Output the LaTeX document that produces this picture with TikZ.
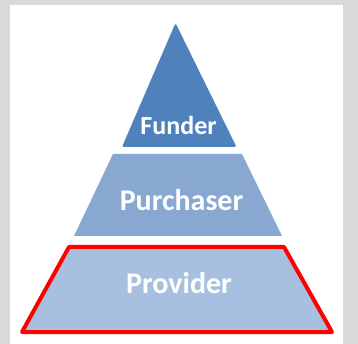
\documentclass[tikz,border=0pt]{standalone}
\usepackage{fontspec}
\setmainfont{Carlito}
\definecolor{frame}{HTML}{D9D9D9}
\definecolor{topblue}{HTML}{4F81BD}
\definecolor{midblue}{HTML}{88A8D2}
\definecolor{lowblue}{HTML}{A8C0E0}
\definecolor{hired}{HTML}{FF0000}
\tikzset{
  lbl/.style={text=white, font=\fontsize{30}{30}\selectfont\bfseries, anchor=base, inner sep=0pt},
  smalllbl/.style={lbl, font=\fontsize{26}{26}\selectfont\bfseries}
}
\begin{document}
\begin{tikzpicture}[x=1pt,y=-1pt]
\useasboundingbox (0,0) rectangle (358,344);
\fill[frame] (0,0) rectangle (358,344);
\fill[white] (10,5) rectangle (343,344);
% tiers
\fill[topblue, rounded corners=1.5pt] (175.5,23) -- (236.5,147) -- (122,147) -- cycle;
\fill[midblue] (113,154) -- (242,154) -- (282,236) -- (74,236) -- cycle;
\filldraw[fill=lowblue, draw=hired, line width=4pt, line join=round] (69,247) -- (284,247) -- (332,332) -- (22,332) -- cycle;
% labels
\node[smalllbl] (funder) at (178.5,135) {Funder};
\node[lbl] (purchaser) at (181.5,211) {Purchaser};
\node[lbl] (provider) at (179,293) {Provider};
\end{tikzpicture}
\end{document}
